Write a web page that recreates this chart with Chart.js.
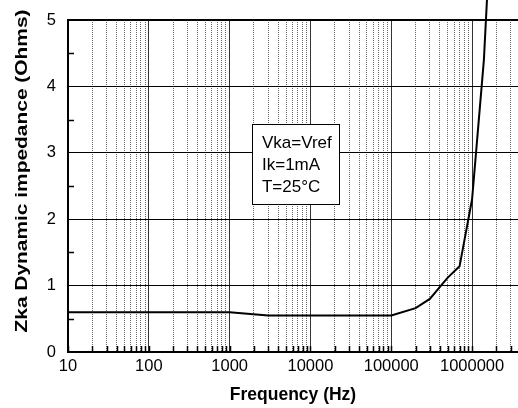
<!DOCTYPE html>
<html lang="en">
<head>
  <meta charset="UTF-8">
  <title>Zka Dynamic impedance</title>
  <script src="https://cdn.jsdelivr.net/npm/chart.js"></script>
  <style>
    html, body{
      margin: 0;
      padding: 0;
      background: #fff;
    }
    #wrap{
      width: 518px;
      height: 408px;
    }
  </style>
</head>
<body>
  <div id="wrap"><canvas id="zkaChart" width="518" height="408"></canvas></div>

<script>
  // frequency (Hz) and impedance (Ohms)
  const freqHz = [10, 100, 1000, 3000, 10000, 100000, 200000, 300000, 400000, 500000, 700000, 1000000, 1400000, 1550000];
  const zkaOhms = [0.6, 0.6, 0.6, 0.55, 0.55, 0.55, 0.66, 0.8, 0.98, 1.12, 1.29, 2.3, 4.4, 5.45];

  const xDecades = [10, 100, 1000, 10000, 100000, 1000000];
  const xMinorSteps = [2, 3, 4, 5, 6, 7, 8, 9];
  const xExtraTicks = [2000000, 3000000];
  const yMajorTicks = [0, 1, 2, 3, 4, 5];
  const yMinorTicks = [0.5, 1.5, 2.5, 3.5, 4.5];
  const noteLines = ['Vka=Vref', 'Ik=1mA', 'T=25°C'];
  const yTitle = 'Zka Dynamic impedance (Ohms)';

  const X_MIN = 10, X_MAX = 3700000;
  const FONT = '"Liberation Sans", Arial, sans-serif';

  // every grid position on the log axis
  let xTickValues = [];
  xDecades.forEach(d => {
    xTickValues.push(d);
    if (d < 1000000) xMinorSteps.forEach(m => xTickValues.push(d * m));
  });
  xTickValues = xTickValues.concat(xExtraTicks);

  const isDecade = v => xDecades.includes(v);

  const framePlugin = {
    id: 'frame',
    afterDatasetsDraw(chart) {
      const ctx = chart.ctx;
      const a = chart.chartArea;
      const xs = chart.scales.x, ys = chart.scales.y;
      ctx.save();
      ctx.strokeStyle = '#000';
      // top border
      ctx.lineWidth = 2;
      ctx.beginPath();
      ctx.moveTo(a.left, a.top);
      ctx.lineTo(a.right, a.top);
      ctx.stroke();
      // inner ticks on bottom axis
      ctx.lineWidth = 1.5;
      xTickValues.forEach(v => {
        const px = Math.round(xs.getPixelForValue(v)) + 0.5;
        ctx.beginPath();
        ctx.moveTo(px, a.bottom);
        ctx.lineTo(px, a.bottom - 6);
        ctx.stroke();
      });
      // inner minor ticks on left axis
      yMinorTicks.forEach(v => {
        const py = Math.round(ys.getPixelForValue(v)) + 0.5;
        ctx.beginPath();
        ctx.moveTo(a.left, py);
        ctx.lineTo(a.left + 6, py);
        ctx.stroke();
      });

      // note box
      const bx0 = xs.getPixelForValue(1890), bx1 = xs.getPixelForValue(22600);
      const by0 = ys.getPixelForValue(3.43), by1 = ys.getPixelForValue(2.23);
      ctx.fillStyle = '#fff';
      ctx.fillRect(bx0, by0, bx1 - bx0, by1 - by0);
      ctx.lineWidth = 1;
      ctx.strokeRect(Math.round(bx0) + 0.5, Math.round(by0) + 0.5, Math.round(bx1 - bx0), Math.round(by1 - by0));
      ctx.fillStyle = '#000';
      ctx.font = '17px ' + FONT;
      ctx.textBaseline = 'middle';
      ctx.textAlign = 'left';
      noteLines.forEach((t, i) => {
        ctx.fillText(t, bx0 + 10, by0 + 19 + i * 22);
      });

      // y title, stretched along its length like the original
      ctx.font = 'bold 17px ' + FONT;
      const w = ctx.measureText(yTitle).width;
      const target = 323;
      ctx.translate(22, 171);
      ctx.rotate(-Math.PI / 2);
      ctx.scale(target / w, 1);
      ctx.textAlign = 'center';
      ctx.fillText(yTitle, 0, 0);
      ctx.restore();
    }
  };

  new Chart(document.getElementById('zkaChart'), {
    type: 'line',
    data: {
      datasets: [{
        data: freqHz.map((f, i) => ({ x: f, y: zkaOhms[i] })),
        borderColor: '#000',
        borderWidth: 2,
        pointRadius: 0,
        tension: 0,
        fill: false,
        clip: false
      }]
    },
    options: {
      responsive: false,
      animation: false,
      layout: { padding: { top: 20, right: 0, left: 0, bottom: 0 } },
      plugins: {
        legend: { display: false },
        tooltip: { enabled: false }
      },
      scales: {
        x: {
          type: 'logarithmic',
          min: X_MIN,
          max: X_MAX,
          afterBuildTicks: scale => {
            scale.ticks = xTickValues.map(v => ({ value: v, major: isDecade(v) }));
          },
          afterFit: scale => { scale.height = 56; },
          ticks: {
            autoSkip: false,
            maxRotation: 0,
            minRotation: 0,
            padding: 5,
            color: '#000',
            font: { family: FONT, size: 16.5 },
            callback: v => isDecade(v) ? String(v) : ''
          },
          grid: {
            drawTicks: false,
            color: c => (c.tick && isDecade(c.tick.value)) ? '#333' : '#666',
            lineWidth: 1
          },
          border: {
            color: '#000',
            width: 2,
            dash: c => (c.tick && isDecade(c.tick.value)) ? [] : [1, 1]
          },
          title: {
            display: true,
            text: 'Frequency (Hz)',
            color: '#000',
            padding: { top: 0, bottom: 2 },
            font: { family: FONT, size: 17.5, weight: 'bold' }
          }
        },
        y: {
          type: 'linear',
          min: 0,
          max: 5,
          afterBuildTicks: scale => {
            scale.ticks = yMajorTicks.map(v => ({ value: v }));
          },
          afterFit: scale => {
            scale.width = 68;
            scale.paddingTop = 0;
            scale.paddingBottom = 0;
          },
          ticks: {
            padding: 12,
            color: '#000',
            font: { family: FONT, size: 16.5 }
          },
          grid: {
            drawTicks: false,
            color: '#000',
            lineWidth: 1
          },
          border: {
            color: '#000',
            width: 2
          },
          title: { display: false }
        }
      }
    },
    plugins: [framePlugin]
  });
</script>
</body>
</html>
